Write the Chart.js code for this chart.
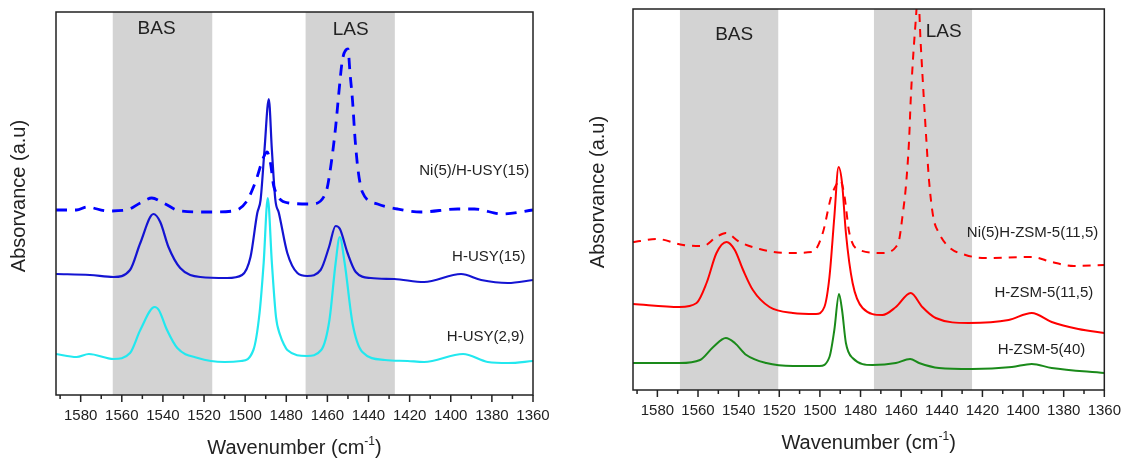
<!DOCTYPE html>
<html>
<head>
<meta charset="utf-8">
<script src="https://cdn.jsdelivr.net/npm/chart.js@4.4.0/dist/chart.umd.min.js"></script>
<style>
body { margin: 0; background: #fff; }
#wrapLeft { position: absolute; left: 0; top: 0; width: 560px; height: 462px; }
#wrapRight { position: absolute; left: 576px; top: 0; width: 550px; height: 462px; }
</style>
</head>
<body>
<div id="wrapLeft"><canvas id="chartLeft"></canvas></div>
<div id="wrapRight"><canvas id="chartRight"></canvas></div>
<script>
// tick positions (cm-1), labels every 20
const tickVals = [1590, 1580, 1570, 1560, 1550, 1540, 1530, 1520, 1510, 1500, 1490, 1480, 1470, 1460, 1450, 1440, 1430, 1420, 1410, 1400, 1390, 1380, 1370, 1360];

// ---- left panel : USY ----
const niUsyW = [1592, 1582, 1577, 1567, 1557.6, 1551, 1545.4, 1539.7, 1531.6, 1518.5, 1505.6, 1499.5, 1495, 1491, 1489.3, 1487.7, 1486, 1478.7, 1468, 1460.8, 1458.4, 1456, 1454.3, 1452.7, 1450, 1449, 1447.8, 1446.5, 1445.1, 1443, 1435.6, 1425.9, 1414.5, 1396.6, 1388.5, 1375, 1360];
const niUsyY = [1.85, 1.85, 1.88, 1.84, 1.85, 1.92, 1.97, 1.92, 1.84, 1.83, 1.84, 1.93, 2.13, 2.38, 2.43, 2.32, 2.08, 1.92, 1.91, 2.02, 2.28, 2.68, 3.05, 3.35, 3.46, 3.22, 2.95, 2.55, 2.25, 2.03, 1.91, 1.86, 1.83, 1.86, 1.86, 1.81, 1.85];

const usy15W = [1592, 1575.5, 1564, 1556, 1551, 1544.6, 1541.3, 1537.3, 1531.6, 1521.8, 1508.8, 1501.5, 1497.4, 1494.1, 1492.5, 1490.6, 1488.5, 1487, 1485.3, 1483.6, 1479.5, 1474.6, 1469.8, 1463.3, 1459.2, 1456, 1453.9, 1450.2, 1446.2, 1438.9, 1427.5, 1413, 1395, 1385.2, 1372.2, 1360];
const usy15Y = [1.21, 1.20, 1.18, 1.25, 1.52, 1.81, 1.73, 1.48, 1.27, 1.18, 1.17, 1.20, 1.38, 1.82, 1.95, 2.45, 2.96, 2.45, 1.95, 1.82, 1.42, 1.22, 1.19, 1.25, 1.48, 1.69, 1.66, 1.42, 1.23, 1.17, 1.16, 1.13, 1.21, 1.15, 1.12, 1.15];

const usy29W = [1592, 1582, 1576, 1564, 1556, 1551, 1544, 1542, 1538, 1533, 1523, 1510, 1502, 1496, 1493, 1491, 1489, 1487, 1485, 1483, 1481, 1479.5, 1470, 1463, 1459, 1456, 1454, 1451.6, 1447.8, 1443, 1432, 1421, 1413, 1394, 1382, 1372, 1360];
const usy29Y = [0.41, 0.38, 0.41, 0.36, 0.42, 0.65, 0.88, 0.85, 0.65, 0.47, 0.37, 0.33, 0.34, 0.45, 0.82, 1.32, 1.97, 1.32, 0.78, 0.60, 0.50, 0.45, 0.39, 0.45, 0.75, 1.32, 1.58, 1.32, 0.72, 0.43, 0.35, 0.34, 0.33, 0.41, 0.33, 0.32, 0.34];

// ---- right panel : ZSM-5 ----
const niZsmW = [1592, 1588.5, 1580.3, 1567.3, 1557.5, 1550.9, 1546.3, 1539.5, 1529.7, 1516.6, 1503.5, 1498.6, 1494.5, 1492, 1490, 1488, 1485.5, 1480.6, 1469.2, 1462.6, 1461, 1459.4, 1457.7, 1456.1, 1455.3, 1454.2, 1452.8, 1451.7, 1450.4, 1448.8, 1447.6, 1446.3, 1444.2, 1441.4, 1436.5, 1428.3, 1418.5, 1395.7, 1385.9, 1375, 1360];
const niZsmY = [1.48, 1.49, 1.51, 1.45, 1.44, 1.53, 1.57, 1.48, 1.41, 1.37, 1.38, 1.57, 1.93, 2.05, 2.10, 1.95, 1.57, 1.40, 1.37, 1.43, 1.50, 1.73, 2.03, 2.50, 2.90, 3.30, 3.70, 3.98, 3.47, 2.90, 2.50, 2.10, 1.73, 1.57, 1.43, 1.35, 1.32, 1.33, 1.28, 1.24, 1.25];

const zsm115W = [1592, 1569, 1560.7, 1555.8, 1550.9, 1546, 1541.9, 1537.8, 1533, 1524.8, 1513.3, 1501.9, 1497.8, 1495.3, 1492.9, 1490.8, 1489.1, 1487.2, 1483.9, 1479, 1469.2, 1462.6, 1455.3, 1449.6, 1443, 1426.7, 1407.1, 1395.7, 1385.9, 1372.8, 1360];
const zsm115Y = [0.86, 0.83, 0.87, 1.07, 1.37, 1.48, 1.40, 1.20, 1.00, 0.83, 0.77, 0.76, 0.83, 1.13, 1.73, 2.23, 2.07, 1.57, 1.07, 0.82, 0.75, 0.83, 0.97, 0.83, 0.72, 0.67, 0.70, 0.77, 0.68, 0.61, 0.57];

const zsm40W = [1592, 1569, 1559, 1552.5, 1546.3, 1541.9, 1536.2, 1526.4, 1513.3, 1500.2, 1495.3, 1492.9, 1490.6, 1489.1, 1487.2, 1483.9, 1474.1, 1462.6, 1455.6, 1451.2, 1441.4, 1425.1, 1405.5, 1395.7, 1385.9, 1360];
const zsm40Y = [0.27, 0.27, 0.30, 0.43, 0.52, 0.47, 0.35, 0.27, 0.24, 0.24, 0.33, 0.60, 0.96, 0.80, 0.47, 0.32, 0.25, 0.27, 0.31, 0.27, 0.22, 0.21, 0.23, 0.26, 0.22, 0.17];

const FONT = '"Liberation Sans", Arial, sans-serif';

function toPoints(xs, ys) {
  return xs.map((x, i) => ({ x: x, y: ys[i] }));
}

function lineSet(xs, ys, color, width, dash) {
  return {
    data: toPoints(xs, ys),
    borderColor: color,
    borderWidth: width,
    borderDash: dash || [],
    pointRadius: 0,
    fill: false,
    cubicInterpolationMode: 'monotone'
  };
}

// bands, text and frame drawn on top of the chart, placed with the chart's scales
function makeDecor(cfg) {
  return {
    id: 'decor',
    beforeDatasetsDraw(chart) {
      const ctx = chart.ctx, a = chart.chartArea, xs = chart.scales.x;
      ctx.save();
      ctx.fillStyle = '#d3d3d3';
      cfg.bands.forEach(b => {
        const x1 = xs.getPixelForValue(b[0]), x2 = xs.getPixelForValue(b[1]);
        ctx.fillRect(Math.min(x1, x2), a.top, Math.abs(x2 - x1), a.bottom - a.top);
      });
      ctx.restore();
    },
    afterDraw(chart) {
      const ctx = chart.ctx, a = chart.chartArea, xs = chart.scales.x, ys = chart.scales.y;
      ctx.save();
      // frame
      ctx.strokeStyle = '#222';
      ctx.lineWidth = 1.5;
      ctx.strokeRect(a.left, a.top, a.right - a.left, a.bottom - a.top);
      // tick marks
      ctx.beginPath();
      tickVals.forEach(v => {
        const px = xs.getPixelForValue(v);
        const len = v % 20 === 0 ? 7 : 4;
        ctx.moveTo(px, a.bottom);
        ctx.lineTo(px, a.bottom + len);
      });
      ctx.stroke();
      ctx.fillStyle = '#222';
      // BAS / LAS
      ctx.font = '19px ' + FONT;
      ctx.textAlign = 'center';
      ctx.textBaseline = 'middle';
      cfg.zoneText.forEach(t => {
        ctx.fillText(t[0], xs.getPixelForValue(t[1]), ys.getPixelForValue(t[2]));
      });
      // series names
      ctx.font = '15px ' + FONT;
      ctx.textAlign = 'right';
      cfg.names.forEach(t => {
        ctx.fillText(t[0], xs.getPixelForValue(t[1]), ys.getPixelForValue(t[2]));
      });
      // x title with superscript
      const cx = (a.left + a.right) / 2, by = a.bottom + 59;
      ctx.textAlign = 'left';
      ctx.textBaseline = 'alphabetic';
      ctx.font = '20px ' + FONT;
      const s1 = 'Wavenumber (cm', s3 = ')';
      const w1 = ctx.measureText(s1).width, w3 = ctx.measureText(s3).width;
      ctx.font = '12px ' + FONT;
      const w2 = ctx.measureText('-1').width;
      let x0 = cx - (w1 + w2 + w3) / 2;
      ctx.font = '20px ' + FONT;
      ctx.fillText(s1, x0, by);
      ctx.font = '12px ' + FONT;
      ctx.fillText('-1', x0 + w1, by - 9);
      ctx.font = '20px ' + FONT;
      ctx.fillText(s3, x0 + w1 + w2, by);
      // y title
      ctx.translate(cfg.yTitle[0], cfg.yTitle[1]);
      ctx.rotate(-Math.PI / 2);
      ctx.textAlign = 'center';
      ctx.textBaseline = 'middle';
      ctx.fillText('Absorvance (a.u)', 0, 0);
      ctx.restore();
    }
  };
}

function makeChart(id, datasets, yMax, cfg) {
  return new Chart(document.getElementById(id), {
    type: 'line',
    data: { datasets: datasets },
    options: {
      responsive: true,
      maintainAspectRatio: false,
      animation: false,
      events: [],
      layout: { padding: cfg.padding },
      plugins: { legend: { display: false }, tooltip: { enabled: false } },
      scales: {
        x: {
          type: 'linear',
          reverse: true,
          min: 1360,
          max: 1592,
          afterBuildTicks: scale => { scale.ticks = tickVals.map(v => ({ value: v })); },
          afterFit: scale => { scale.height = cfg.axisHeight; },
          grid: { display: false, drawTicks: true, tickLength: 7 },
          border: { display: false },
          ticks: {
            autoSkip: false,
            maxRotation: 0,
            padding: 5,
            color: '#222',
            font: { family: FONT, size: 15 },
            callback: v => (v % 20 === 0 ? String(v) : '')
          }
        },
        y: { display: false, min: 0, max: yMax }
      }
    },
    plugins: [makeDecor(cfg)]
  });
}

makeChart('chartLeft', [
  lineSet(niUsyW, niUsyY, '#0000ff', 2.8, [11, 8]),
  lineSet(usy15W, usy15Y, '#1414d2', 2.2),
  lineSet(usy29W, usy29Y, '#22e8ef', 2.2)
], 3.83, {
  padding: { left: 56, top: 12, right: 27, bottom: 0 },
  axisHeight: 67,
  bands: [[1564.4, 1516], [1470.6, 1427.2]],
  zoneText: [['BAS', 1543.1, 3.66], ['LAS', 1448.7, 3.65]],
  names: [['Ni(5)/H-USY(15)', 1361.8, 2.24], ['H-USY(15)', 1363.7, 1.38], ['H-USY(2,9)', 1364.2, 0.58]],
  yTitle: [19, 196]
});

makeChart('chartRight', [
  lineSet(niZsmW, niZsmY, '#ff0000', 2, [8, 7]),
  lineSet(zsm115W, zsm115Y, '#ff0000', 2),
  lineSet(zsm40W, zsm40Y, '#1a8a1a', 2)
], 3.81, {
  padding: { left: 57, top: 9, right: 20, bottom: 0 },
  axisHeight: 72,
  bands: [[1568.9, 1520.5], [1473.4, 1425.1]],
  zoneText: [['BAS', 1542.2, 3.55], ['LAS', 1439.1, 3.58]],
  names: [['Ni(5)H-ZSM-5(11,5)', 1363, 1.57], ['H-ZSM-5(11,5)', 1365.4, 0.97], ['H-ZSM-5(40)', 1369.4, 0.40]],
  yTitle: [22, 192]
});
</script>
</body>
</html>
